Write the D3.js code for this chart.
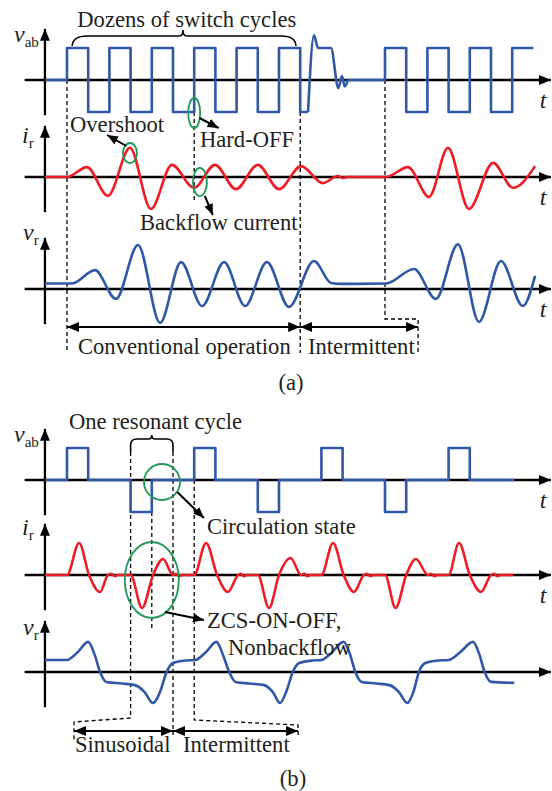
<!DOCTYPE html>
<html>
<head>
<meta charset="utf-8">
<script src="https://cdn.jsdelivr.net/npm/d3@7"></script>
<style>
  html, body { margin: 0; padding: 0; background: #fff; }
  svg text { font-family: "Liberation Serif", "Times New Roman", serif; fill: #231f20; }
</style>
</head>
<body>
<svg id="chart" width="552" height="791"></svg>
<script>
// time is counted in half switching periods (t = 0 at the first switching edge),
// amplitudes are normalised to the vab step height

// (a) conventional + intermittent
const vabA_head = [[-1.04,0],[0,1],[1,-1],[2,1],[3,-1],[4,1],[5,-1],[6,1],[7,-1],[8,1],[9,-1],[10,1],[11,-1],[11.37,-1]];
const vabA_ring = [[11.37,-1],[11.65,1.4],[11.84,1.0],[12.45,1.0],[12.8,-0.25],[12.97,0.12],[13.1,-0.2],[13.25,0]];
const vabA_tail = [[13.25,0],[15,1],[16,-1],[17,1],[18,-1],[19,1],[20,-1],[21,1],[22,1]];
const irA = [[-1.04,0],[0,0],[0.94,0.31],[1.93,-0.59],[2.97,0.91],[3.96,-1.0],[4.95,0.38],[5.99,-0.34],
  [6.98,0.38],[7.97,-0.38],[9.0,0.38],[10.0,-0.38],[11.04,0.34],[12.07,-0.19],[12.78,0.03],[13.0,-0.03],
  [13.2,0],[15.05,0],[16.08,0.31],[17.08,-0.62],[17.97,0.91],[18.96,-1.0],[20.1,0.44],[21.04,-0.34],[22.08,0.34]];
const vrA = [[-1.04,0.17],[0.24,0.17],[1.32,0.59],[2.31,-0.31],[3.35,1.375],[4.39,-1.06],[5.38,0.84],
  [6.37,-0.53],[7.41,0.84],[8.4,-0.53],[9.43,0.84],[10.47,-0.56],[11.65,0.875],[12.45,0.19],[13.0,0.16],
  [15.05,0.17],[16.37,0.625],[17.4,-0.31],[18.44,1.4],[19.43,-1.03],[20.47,0.875],[21.5,-0.53],[22.08,0.41]];

// (b) sinusoidal + intermittent
const vabB = [[-1.04,0],[0,1],[1,0],[3,-1],[4,0],[6,1],[7,0],[9,-1],[10,0],[12,1],[13,0],[15,-1],[16,0],[18,1],[19,0],[21.1,0]];
const irB = [[-1.04,0],[0,0],[0.57,1.0],[1.04,0],[1.56,-0.53],[1.93,0],[2.1,0.04],[2.25,-0.04],[2.4,0],[3,0],
  [3.54,-1.03],[4.06,0],[4.53,0.5],[5.0,0],[5.14,0.04],[5.28,-0.04],[5.42,0],[6,0],
  [6.56,1.0],[7.08,0],[7.59,-0.53],[8.07,0],[8.2,0.04],[8.34,-0.04],[8.48,0],[9,0],
  [9.53,-1.03],[10.0,0],[10.55,0.53],[11.04,0],[11.2,0.04],[11.34,-0.04],[11.48,0],[12,0],
  [12.55,1.0],[13.05,0],[13.54,-0.53],[14.0,0],[14.15,0.04],[14.3,-0.04],[14.45,0],[15,0],
  [15.5,-1.03],[16.0,0],[16.46,0.5],[17.03,0],[17.18,0.04],[17.32,-0.04],[17.46,0],[18,0],
  [18.49,1.0],[19.0,0],[19.53,-0.53],[20.0,0],[20.15,0.04],[20.3,-0.04],[20.45,0],[21.04,0]];
const vrB = [[-1.04,0.375],[0,0.375],[0.5,0.62],[1.0,0.94],[1.3,0.55],[1.56,0],[1.85,-0.31],[2.6,-0.36],
  [3.2,-0.41],[3.65,-0.62],[4.05,-0.97],[4.4,-0.6],[4.7,0],[5.0,0.28],[5.6,0.36],[6.05,0.375],
  [6.55,0.62],[7.05,0.94],[7.35,0.55],[7.65,0],[7.95,-0.31],[8.6,-0.36],[9.3,-0.41],[9.7,-0.62],
  [10.05,-0.97],[10.35,-0.6],[10.65,0],[10.95,0.28],[11.6,0.36],[12.0,0.375],
  [12.5,0.62],[13.05,0.94],[13.35,0.55],[13.6,0],[13.9,-0.31],[14.6,-0.36],[15.2,-0.41],[15.65,-0.62],
  [16.05,-0.97],[16.35,-0.6],[16.6,0],[16.9,0.28],[17.5,0.36],[18.0,0.375],
  [18.55,0.62],[19.15,0.94],[19.45,0.55],[19.7,0],[20.0,-0.31],[21.1,-0.34]];

const BLUE = '#3157a7', RED = '#ee1d25', GREEN = '#1e9a55', INK = '#000';

const svg = d3.select('#chart');
const x = d3.scaleLinear().domain([-2, 23]).range([24.6, 554.6]);
const T0 = -1.04;   // vertical axes
const TEND = 22.83; // tip of time axes
const row = z => d3.scaleLinear().domain([-1, 1]).range([z + 32, z - 32]);
const yVabA = row(80), yIrA = row(177), yVrA = row(289);
const yVabB = row(480), yIrB = row(575), yVrB = row(672);

// arrow heads
const defs = svg.append('defs');
function head(id, len, wid) {
  defs.append('marker').attr('id', id)
    .attr('viewBox', `0 0 ${len} ${wid}`).attr('refX', len).attr('refY', wid / 2)
    .attr('markerWidth', len).attr('markerHeight', wid)
    .attr('markerUnits', 'userSpaceOnUse').attr('orient', 'auto-start-reverse')
    .append('path').attr('d', `M0,0L${len},${wid / 2}L0,${wid}Z`).attr('fill', INK);
}
head('big', 12, 10);
head('small', 11, 9);

function axes(y, showT) {
  svg.append('line')
    .attr('x1', x(-2)).attr('x2', x(TEND)).attr('y1', y(0)).attr('y2', y(0))
    .attr('stroke', INK).attr('stroke-width', 2.3).attr('marker-end', 'url(#big)');
  svg.append('line')
    .attr('x1', x(T0)).attr('x2', x(T0)).attr('y1', y(-1.1)).attr('y2', y(1.6))
    .attr('stroke', INK).attr('stroke-width', 2.3).attr('marker-end', 'url(#big)');
  if (showT) {
    svg.append('text').attr('x', x(22.3)).attr('y', y(0) + 28)
      .attr('font-size', 24).attr('font-style', 'italic').text('t');
  }
}

function wave(data, y, color, curve) {
  const line = d3.line().x(d => x(d[0])).y(d => y(d[1])).curve(curve);
  svg.append('path').datum(data).attr('d', line)
    .attr('fill', 'none').attr('stroke', color).attr('stroke-width', 2.6)
    .attr('stroke-linejoin', 'round');
}

function symbol(px, base, main, sub) {
  const t = svg.append('text').attr('x', px).attr('y', base).attr('font-size', 24);
  t.append('tspan').attr('font-style', 'italic').text(main);
  t.append('tspan').attr('font-size', 15).attr('dy', 5).text(sub);
}

function label(px, base, s, anchor) {
  svg.append('text').attr('x', px).attr('y', base).attr('font-size', 22.6)
    .attr('text-anchor', anchor || 'start').text(s);
}

function dashed(pts) {
  svg.append('path').attr('d', d3.line()(pts))
    .attr('fill', 'none').attr('stroke', INK).attr('stroke-width', 1.3)
    .attr('stroke-dasharray', '4,3');
}

function arrow(x1, y1, x2, y2, both) {
  const l = svg.append('line').attr('x1', x1).attr('y1', y1).attr('x2', x2).attr('y2', y2)
    .attr('stroke', INK).attr('stroke-width', both ? 2.2 : 2)
    .attr('marker-end', `url(#${both ? 'big' : 'small'})`);
  if (both) l.attr('marker-start', 'url(#big)');
}

function ring(cx, cy, rx, ry) {
  svg.append('ellipse').attr('cx', cx).attr('cy', cy).attr('rx', rx).attr('ry', ry)
    .attr('fill', 'none').attr('stroke', GREEN).attr('stroke-width', 1.8);
}

// ---------- panel (a) ----------
[yVabA, yIrA, yVrA].forEach(y => axes(y, true));

dashed([[x(0), yVabA(0)], [x(0), 353]]);
dashed([[x(6), yVabA(-1)], [x(6), 200]]);
dashed([[x(11), yVabA(-1)], [x(11), 353]]);
dashed([[x(15), yVabA(0)], [x(15), 319], [x(16.56), 319], [x(16.56), 353]]);

wave(vabA_head, yVabA, BLUE, d3.curveStepAfter);
wave(vabA_ring, yVabA, BLUE, d3.curveMonotoneX);
wave(vabA_tail, yVabA, BLUE, d3.curveStepAfter);
wave(irA, yIrA, RED, d3.curveMonotoneX);
wave(vrA, yVrA, BLUE, d3.curveMonotoneX);

symbol(14, 42, 'v', 'ab');
symbol(22, 143, 'i', 'r');
symbol(23, 240, 'v', 'r');

// brace over the switch cycles
const br = d3.path();
br.moveTo(x(0.24), 46);
br.quadraticCurveTo(x(0.28), 36, x(0.95), 36);
br.lineTo(x(5.3), 36);
br.quadraticCurveTo(x(5.47), 36, x(5.47), 30);
br.quadraticCurveTo(x(5.47), 36, x(5.64), 36);
br.lineTo(x(10.1), 36);
br.quadraticCurveTo(x(10.78), 36, x(10.8), 46);
svg.append('path').attr('d', br.toString()).attr('fill', 'none').attr('stroke', INK).attr('stroke-width', 1.6);
label(x(5.65), 27, 'Dozens of switch cycles', 'middle');

ring(x(2.97), 153, 7, 10);
arrow(x(2.8), 146, x(1.89), 135);
label(70, 132, 'Overshoot');

ring(x(6), 113, 6, 15);
arrow(x(6.25), 118, x(7.15), 128);
label(200, 147, 'Hard-OFF');

ring(x(6.27), 182, 7, 14);
arrow(x(6.5), 196, x(6.88), 215);
label(140, 230, 'Backflow current');

arrow(x(0), 327, x(11), 327, true);
arrow(x(11), 327, x(16.56), 327, true);
label(78, 354, 'Conventional operation');
label(308, 354, 'Intermittent');
label(291, 390, '(a)', 'middle');

// ---------- panel (b) ----------
axes(yVabB, true);
axes(yIrB, true);
axes(yVrB, false);

const bb = d3.path();
bb.moveTo(x(3), 452);
bb.lineTo(x(3), 445);
bb.quadraticCurveTo(x(3), 439, x(3.3), 439);
bb.lineTo(x(3.85), 439);
bb.quadraticCurveTo(x(4), 439, x(4), 435);
bb.quadraticCurveTo(x(4), 439, x(4.15), 439);
bb.lineTo(x(4.7), 439);
bb.quadraticCurveTo(x(5), 439, x(5), 445);
bb.lineTo(x(5), 452);
svg.append('path').attr('d', bb.toString()).attr('fill', 'none').attr('stroke', INK).attr('stroke-width', 1.6);
label(69, 429, 'One resonant cycle');

dashed([[x(3), 452], [x(3), 718], [x(0.33), 722], [x(0.33), 740]]);
dashed([[x(5), 452], [x(5), 735]]);
dashed([[x(4), yVabB(-1)], [x(4), 630]]);
dashed([[x(6), yVabB(0)], [x(6), 720], [x(10.9), 725], [x(10.9), 738]]);

wave(vabB, yVabB, BLUE, d3.curveStepAfter);
wave(irB, yIrB, RED, d3.curveMonotoneX);
wave(vrB, yVrB, BLUE, d3.curveMonotoneX);

symbol(14, 442, 'v', 'ab');
symbol(22, 535, 'i', 'r');
symbol(23, 635, 'v', 'r');

ring(x(4.48), 482, 18, 18);
arrow(x(5.2), 492, x(6.46), 518);
label(207, 534, 'Circulation state');

ring(x(4.0), 580, 27, 38);
arrow(x(4.62), 612, x(6.46), 620);
label(207, 628, 'ZCS-ON-OFF,');
label(228, 655, 'Nonbackflow');

arrow(x(0.33), 731, x(5), 731, true);
arrow(x(5), 731, x(10.9), 731, true);
label(75, 752, 'Sinusoidal');
label(183, 752, 'Intermittent');
label(293, 786, '(b)', 'middle');
</script>
</body>
</html>
